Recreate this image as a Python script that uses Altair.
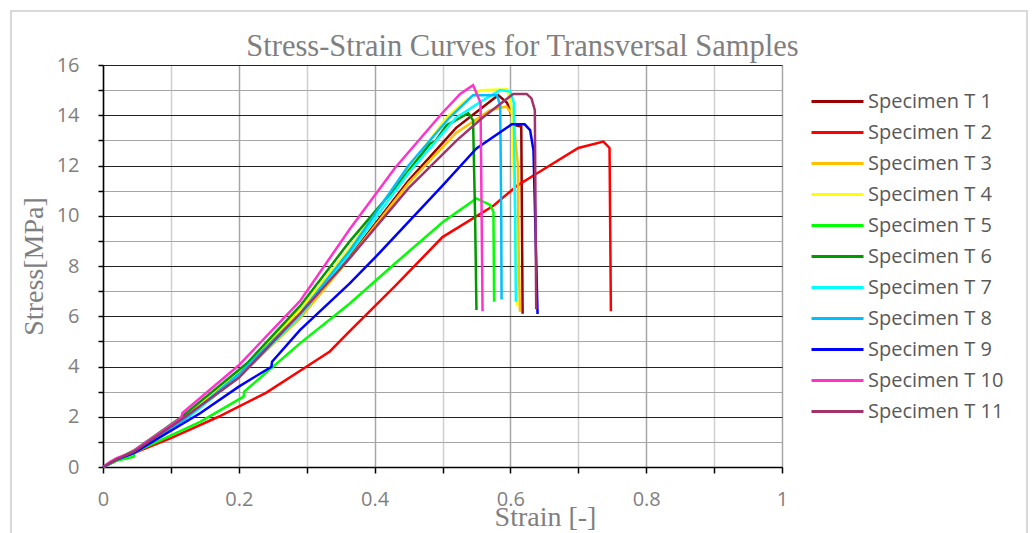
import altair as alt
import pandas as pd

names = [f"Specimen T {i}" for i in range(1, 12)]
colors = ["#990000", "#FF0000", "#FFC000", "#FFFF00", "#00FF00", "#009900",
          "#00FFFF", "#00BFFF", "#0000FF", "#FF33CC", "#A0336A"]

t1_strain = [0, 0.02, 0.045, 0.12, 0.2, 0.29, 0.363, 0.45, 0.52, 0.582, 0.595, 0.607, 0.616, 0.618]
t1_stress = [0, 0.3, 0.6, 1.9, 3.6, 5.95, 8.35, 11.4, 13.5, 14.8, 14.5, 13.6, 13.55, 6.1]

t2_strain = [0, 0.02, 0.05, 0.1, 0.17, 0.24, 0.3, 0.334, 0.363, 0.43, 0.5, 0.575, 0.61, 0.64, 0.7, 0.737, 0.746, 0.748]
t2_stress = [0, 0.25, 0.6, 1.15, 2.0, 2.95, 4.0, 4.6, 5.4, 7.2, 9.15, 10.4, 11.2, 11.7, 12.7, 12.95, 12.7, 6.2]

t3_strain = [0, 0.02, 0.045, 0.12, 0.2, 0.29, 0.363, 0.45, 0.52, 0.57, 0.594, 0.604, 0.611, 0.612, 0.614]
t3_stress = [0, 0.3, 0.6, 1.9, 3.6, 5.9, 8.3, 11.3, 13.3, 14.2, 14.35, 14.0, 12.0, 8.8, 6.18]

t4_strain = [0, 0.02, 0.045, 0.12, 0.2, 0.29, 0.363, 0.45, 0.506, 0.53, 0.555, 0.595, 0.602, 0.607, 0.61]
t4_stress = [0, 0.3, 0.6, 1.95, 3.8, 6.25, 8.7, 11.9, 13.9, 14.5, 15.0, 15.03, 14.3, 10.0, 6.4]

t5_strain = [0, 0.02, 0.045, 0.046, 0.143, 0.207, 0.208, 0.29, 0.363, 0.43, 0.501, 0.55, 0.57, 0.575, 0.576]
t5_stress = [0, 0.25, 0.41, 0.58, 1.8, 2.8, 3.0, 4.92, 6.5, 8.1, 9.76, 10.69, 10.43, 10.16, 6.58]

t6_strain = [0, 0.02, 0.045, 0.116, 0.212, 0.29, 0.363, 0.43, 0.482, 0.489, 0.506, 0.538, 0.545, 0.548, 0.55]
t6_stress = [0, 0.3, 0.65, 2.0, 4.13, 6.4, 8.97, 11.1, 12.88, 12.95, 13.6, 14.08, 13.8, 10.0, 6.25]

t7_strain = [0, 0.02, 0.045, 0.12, 0.2, 0.29, 0.363, 0.45, 0.52, 0.56, 0.585, 0.6, 0.605, 0.607, 0.608]
t7_stress = [0, 0.3, 0.55, 1.85, 3.6, 6.0, 8.5, 11.7, 13.9, 14.6, 15.0, 14.94, 14.5, 10.0, 6.58]

t8_strain = [0, 0.02, 0.045, 0.12, 0.2, 0.29, 0.363, 0.45, 0.51, 0.545, 0.58, 0.585, 0.5865, 0.587]
t8_stress = [0, 0.3, 0.55, 1.9, 3.7, 6.1, 8.6, 12.0, 13.9, 14.8, 14.8, 14.4, 10.0, 6.67]

t9_strain = [0, 0.02, 0.045, 0.143, 0.2, 0.248, 0.249, 0.29, 0.363, 0.403, 0.5, 0.55, 0.602, 0.621, 0.629, 0.634, 0.64]
t9_stress = [0, 0.3, 0.55, 2.14, 3.2, 3.99, 4.19, 5.45, 7.3, 8.4, 11.2, 12.68, 13.64, 13.64, 13.41, 12.6, 6.09]

t10_strain = [0, 0.01, 0.02, 0.04, 0.115, 0.117, 0.2, 0.29, 0.363, 0.43, 0.5, 0.526, 0.545, 0.556, 0.559]
t10_stress = [0, 0.2, 0.35, 0.55, 1.95, 2.15, 4.05, 6.6, 9.45, 11.9, 14.1, 14.85, 15.2, 14.5, 6.2]

t11_strain = [0, 0.02, 0.045, 0.118, 0.2, 0.29, 0.363, 0.45, 0.521, 0.558, 0.604, 0.624, 0.631, 0.636, 0.638]
t11_stress = [0, 0.3, 0.6, 1.94, 3.55, 6.1, 8.3, 11.1, 13.0, 13.88, 14.85, 14.85, 14.67, 14.2, 6.28]

strains = [t1_strain, t2_strain, t3_strain, t4_strain, t5_strain, t6_strain,
           t7_strain, t8_strain, t9_strain, t10_strain, t11_strain]
stresses = [t1_stress, t2_stress, t3_stress, t4_stress, t5_stress, t6_stress,
            t7_stress, t8_stress, t9_stress, t10_stress, t11_stress]

rows = []
for name, xs, ys in zip(names, strains, stresses):
    for i, (xv, yv) in enumerate(zip(xs, ys)):
        rows.append({"series": name, "strain": xv, "stress": yv, "idx": i})
df = pd.DataFrame(rows)

x_ticks = [round(i * 0.1, 1) for i in range(11)]
y_ticks = list(range(17))

W, H = 679, 402
LEFT, TOP = 103, 65

x_axis = alt.Axis(
    values=x_ticks,
    labelExpr="round(datum.value*10)%2==0 ? format(datum.value, '~g') : ''",
    title="Strain [-]",
    titleFont="Liberation Serif", titleFontSize=28, titleFontWeight="normal",
    titleColor="#7f7f7f", titleX=442, titleY=58, titleAnchor="middle",
    titleBaseline="alphabetic",
    labelFont="Open Sans", labelFontSize=20, labelColor="#7f7f7f", labelPadding=16,
    labelFlush=False, labelOverlap=False,
    domainColor="#000000", domainWidth=1.5,
    tickColor="#000000", tickSize=6, tickWidth=1.5,
    grid=True,
    gridColor={"condition": {"test": "round(datum.value*10)%2==0", "value": "#a6a6a6"}, "value": "#d0d0d0"},
    gridWidth=1.5,
)

y_axis = alt.Axis(
    values=y_ticks,
    labelExpr="datum.value%2==0 ? datum.label : ''",
    title="Stress[MPa]",
    titleFont="Liberation Serif", titleFontSize=28, titleFontWeight="normal",
    titleColor="#7f7f7f", titleX=-69, titleY=201, titleAnchor="middle",
    titleBaseline="middle", titleAngle=270,
    labelFont="Open Sans", labelFontSize=20, labelColor="#7f7f7f", labelPadding=19,
    labelFlush=False, labelOverlap=False,
    domainColor="#000000", domainWidth=1.5,
    tickColor="#000000", tickSize=5, tickWidth=1.5,
    grid=True,
    gridColor={"condition": {"test": "datum.value%2==0", "value": "#222222"}, "value": "#a6a6a6"},
    gridWidth=1.2,
)

lines = alt.Chart(df).mark_line(strokeWidth=2.5).encode(
    x=alt.X("strain:Q", scale=alt.Scale(domain=[0, 1], nice=False, zero=True), axis=x_axis),
    y=alt.Y("stress:Q", scale=alt.Scale(domain=[0, 16], nice=False), axis=y_axis),
    color=alt.Color(
        "series:N",
        scale=alt.Scale(domain=names, range=colors),
        sort=names,
        legend=alt.Legend(
            title=None, orient="none", legendX=720, legendY=22,
            symbolType="M-2,0H2", symbolSize=676, symbolStrokeWidth=3,
            labelFont="Open Sans", labelFontSize=20, labelColor="#595959",
            labelOffset=16, rowPadding=6, labelLimit=300,
        ),
    ),
    order=alt.Order("idx:Q"),
)

frame = alt.Chart(pd.DataFrame({"f": [0]})).mark_rect(
    fill=None, stroke="#d9d9d9", strokeWidth=2
).encode(
    x=alt.value(-92), x2=alt.value(924), y=alt.value(-54), y2=alt.value(490)
)

chart = alt.layer(frame, lines).properties(
    width=W, height=H,
    title=alt.TitleParams(
        "Stress-Strain Curves for Transversal Samples",
        font="Liberation Serif", fontSize=30.5, fontWeight="normal", color="#7f7f7f",
        anchor="middle", dx=80, offset=-52, frame="group",
    ),
    autosize=alt.AutoSizeParams(type="none"),
    padding={"left": LEFT, "top": TOP, "right": 1033 - LEFT - W, "bottom": 533 - TOP - H},
).configure_view(stroke=None).configure(background="white")

chart.save("out.html", embed_options={"renderer": "svg", "actions": False})
